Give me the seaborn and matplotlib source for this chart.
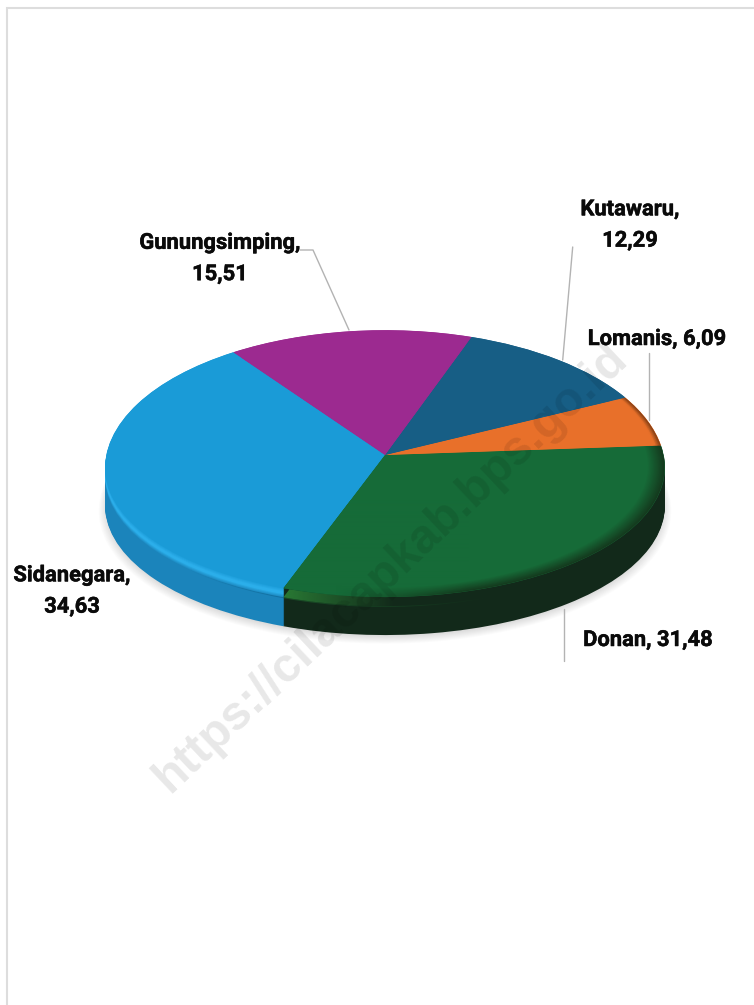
import numpy as np
import matplotlib
matplotlib.use("Agg")
import matplotlib.pyplot as plt
import matplotlib.patheffects as pe
from matplotlib.transforms import Transform
from matplotlib.colors import to_rgb
import seaborn as sns

# ---- data (counter-clockwise from Sidanegara) ----
names = ["Sidanegara", "Donan", "Lomanis", "Kutawaru", "Gunungsimping"]
values = [34.63, 31.48, 6.09, 12.29, 15.51]
slice_hex = ["#1A9BD7", "#166B38", "#E8702A", "#175E85", "#9C2A90"]
rim_high_hex = ["#2BAEEA", "#12291A", "#C05A20", "#124A69", "#7C2072"]
rim_low_hex = ["#1B84BB", "#12291A", "#5A2A10", "#0D3448", "#561650"]
bevel_hex = ["#1A9BD7", "#143A1E", "#8A4216", "#175E85", "#9C2A90"]
label_breaks = ["\n", " ", " ", "\n", "\n"]
label_pos = [(72, 591), (648, 640), (657, 339), (630, 225), (220, 258.5)]
leaders = [
    None,
    [(564, 609), (564, 661)],
    [(649, 353), (649, 420)],
    [(572.7, 247), (562.7, 360)],
    [(300, 250), (313, 250), (349, 330)],
]
watermark = "https://cilacapkab.bps.go.id"

sns.set_theme(style="white")
plt.rcParams["font.family"] = ["Roboto", "DejaVu Sans"]

W, H = 754, 1005
fig = plt.figure(figsize=(W / 100, H / 100), dpi=100, facecolor="white")
ax = fig.add_axes([0, 0, 1, 1])


class Tilt(Transform):
    """Perspective view of a flat disc, in pixels of the figure."""
    input_dims = output_dims = 2
    is_separable = False
    has_inverse = False

    def __init__(self, cx=385.0, cy=455.0, ax_=278.6, up=137.0, low=128.2, k=0.0975):
        super().__init__()
        self.p = (cx, cy, ax_, up, low, k)

    def transform_non_affine(self, v):
        cx, cy, a, up, low, k = self.p
        v = np.asarray(v, float)
        d = 1 + k * v[:, 1]
        b = np.where(v[:, 1] >= 0, up, low)
        return np.column_stack([cx + a * v[:, 0] / d, cy - b * v[:, 1] / d])


z = [2]


def disc(colors, dy=0.0, radius=1.0):
    wedges, _ = ax.pie(values, colors=colors, startangle=126, counterclock=True,
                       radius=radius, wedgeprops={"linewidth": 0})
    tr = Tilt(cy=455.0 + dy) + ax.transData
    for w in wedges:
        w.set_transform(tr)
        w.set_clip_on(False)
        w.set_zorder(z[0])
    z[0] += 1
    return wedges


def mix(a, b, t):
    a, b = np.array(to_rgb(a)), np.array(to_rgb(b))
    return tuple(a + (b - a) * t)


def fade_image(colour, a0, x0, x1, y0=650, y1=440):
    grad = np.zeros((1, 200, 4))
    grad[..., :3] = to_rgb(colour)
    grad[0, :, 3] = np.clip(np.linspace(a0, 0.0, 200), 0, 1)
    img = ax.imshow(grad, extent=(x0, x1, y0, y1), aspect="auto", zorder=z[0],
                    interpolation="bilinear")
    z[0] += 1
    return img


# soft shadow under the disc
for i, g in enumerate(np.linspace(0.985, 0.86, 9)):
    disc([(g, g, g)] * 5, dy=43 - i * 0.4, radius=1.022 - i * 0.0035)

# side wall: stacked layers, low to high
depth = 38
for d in range(depth, 10, -1):
    disc(sns.color_palette(rim_low_hex), dy=d)
low_clip = disc(sns.color_palette(rim_low_hex), dy=10)
green_wall = fade_image("#1C5A2C", 0.75, 280, 490)
blue_wall = fade_image("#0F6A99", 0.8, 285, 190)
hi_clip = None
for d in range(9, 0, -1):
    if d >= 7:
        t = (d - 6) / 4
        cols = [mix(rim_high_hex[i], rim_low_hex[i], t) for i in range(5)]
    elif d >= 4:
        cols = sns.color_palette(rim_high_hex)
    else:
        t = (4 - d) / 4
        cols = [mix(rim_high_hex[i], slice_hex[i] if i != 1 else rim_high_hex[i], t)
                for i in range(5)]
    w = disc(cols, dy=d)
    if d == 9:
        hi_clip = w
hi_im = fade_image("#2E8B3A", 0.85, 280, 395)

# top face with a soft bevel on the green and orange slices
disc(sns.color_palette(slice_hex))
for t, r in zip(np.linspace(0, 1, 14), np.linspace(0.999, 0.94, 14)):
    cols = list(sns.color_palette(slice_hex))
    cols[1] = mix(bevel_hex[1], slice_hex[1], t)
    if r > 0.98:
        cols[2] = mix(bevel_hex[2], slice_hex[2], (0.999 - r) / 0.019)
    disc(cols, radius=r)
top_clip = disc(sns.color_palette(slice_hex), radius=1.0)
for w_ in top_clip:
    w_.set_visible(False)
flat_im = fade_image(slice_hex[1], 1.5, 270, 470, y0=620, y1=500)

ax.set_aspect("auto")
ax.set_xlim(0, W)
ax.set_ylim(H, 0)
ax.axis("off")

green_wall.set_clip_path(low_clip[1])
blue_wall.set_clip_path(low_clip[0])
hi_im.set_clip_path(hi_clip[1])
flat_im.set_clip_path(top_clip[1])

# page frame
ax.plot([7, 7, W], [H, 8, 8], color="#DDDDDD", lw=1.5, zorder=1, solid_joinstyle="miter")

# leader lines
for pts in leaders:
    if pts:
        xs, ys = zip(*pts)
        ax.plot(xs, ys, color="#B3B3B3", lw=1.0, zorder=z[0])

# data labels
for n, v, br, (x, y) in zip(names, values, label_breaks, label_pos):
    txt = f"{n},{br}{v:.2f}".replace(".", ",")
    ax.text(x, y, txt, ha="center", va="center", fontsize=15.8, fontweight="bold",
            color="#0A0A0A", linespacing=1.55, zorder=z[0] + 1,
            path_effects=[pe.withStroke(linewidth=0.35, foreground="#0A0A0A")])

# watermark
ax.text(391, 568, watermark, rotation=43.3, rotation_mode="anchor", ha="center",
        va="center", fontsize=34.5, fontweight="bold", family="Liberation Sans",
        color="black", alpha=0.095, zorder=z[0] + 2)

fig.savefig("out.png", dpi=100, facecolor="white")
